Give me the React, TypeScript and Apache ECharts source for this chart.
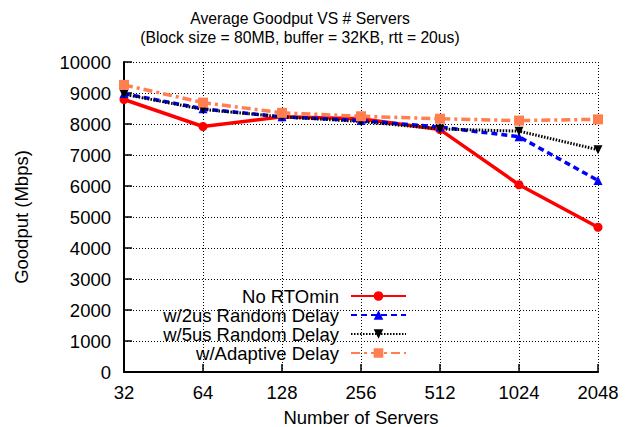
import React, { useEffect, useRef } from "react";
import * as echarts from "echarts";

const categories = ["32", "64", "128", "256", "512", "1024", "2048"];
const noRTOmin = [8790, 7920, 8230, 8170, 7820, 6040, 4670];
const delay2us = [8980, 8490, 8230, 8110, 7900, 7590, 6180];
const delay5us = [8960, 8470, 8230, 8080, 7840, 7770, 7170];
const adaptive = [9260, 8690, 8360, 8250, 8170, 8110, 8150];
const seriesNames = ["No RTOmin", "w/2us Random Delay", "w/5us Random Delay", "w/Adaptive Delay"];

const FONT = "Liberation Sans, Arial, Helvetica, sans-serif";
const FS = 18.5;

export default function App() {
  const ref = useRef<HTMLDivElement>(null);
  useEffect(() => {
    if (!ref.current) return;
    const chart = echarts.init(ref.current, undefined, { renderer: "svg" });
    const legendCenters = [296, 315, 334, 353];
    const legends = seriesNames.map((n, i) => ({
      data: [n],
      orient: "horizontal",
      align: "right",
      right: 234,
      top: legendCenters[i] - 10,
      padding: 0,
      itemWidth: 55,
      itemHeight: 12,
      selectedMode: false,
      textStyle: {
        fontFamily: FONT,
        fontSize: FS,
        lineHeight: 20,
        color: "#000",
        padding: [0, 7, 0, 0],
      },
    }));
    const base = { type: "line", symbolKeepAspect: true, z: 3 };
    chart.setOption({
      animation: false,
      backgroundColor: "#fff",
      title: {
        text: "Average Goodput VS # Servers\n(Block size = 80MB, buffer = 32KB, rtt = 20us)",
        left: 295,
        top: 4,
        textAlign: "center",
        textStyle: {
          fontFamily: FONT,
          fontSize: 15.7,
          lineHeight: 19,
          fontWeight: "normal",
          color: "#000",
        },
      },
      legend: legends,
      grid: {
        left: 124,
        right: 43,
        top: 62,
        bottom: 55,
        containLabel: false,
        outerBoundsMode: "none",
      },
      xAxis: {
        type: "category",
        data: categories,
        boundaryGap: false,
        name: "Number of Servers",
        nameLocation: "middle",
        nameGap: 37,
        nameTextStyle: { fontFamily: FONT, fontSize: FS, lineHeight: 16, color: "#000" },
        axisLine: { show: true, lineStyle: { color: "#000", width: 2 } },
        axisTick: { show: true, inside: true, length: 8, lineStyle: { color: "#000", width: 1.5 } },
        axisLabel: { fontFamily: FONT, fontSize: FS, color: "#000", margin: 11 },
        splitLine: { show: true, lineStyle: { color: "#000", width: 1, type: [1, 2] } },
      },
      yAxis: {
        type: "value",
        min: 0,
        max: 10000,
        interval: 1000,
        name: "Goodput (Mbps)",
        nameLocation: "middle",
        nameRotate: 90,
        nameGap: 93,
        nameTextStyle: { fontFamily: FONT, fontSize: FS, color: "#000" },
        axisLine: { show: true, lineStyle: { color: "#000", width: 2 } },
        axisTick: { show: true, inside: true, length: 8, lineStyle: { color: "#000", width: 1.5 } },
        axisLabel: {
          fontFamily: FONT,
          fontSize: FS,
          color: "#000",
          margin: 13,
          formatter: (v: number) => String(v),
        },
        splitLine: { show: true, lineStyle: { color: "#000", width: 1, type: [1, 2] } },
      },
      series: [
        {
          ...base,
          name: seriesNames[0],
          data: noRTOmin,
          symbol: "circle",
          symbolSize: 9,
          itemStyle: { color: "#ff0000" },
          lineStyle: { color: "#ff0000", width: 3.5, type: "solid" },
        },
        {
          ...base,
          name: seriesNames[1],
          data: delay2us,
          symbol: "triangle",
          symbolSize: 9,
          itemStyle: { color: "#0000ff" },
          lineStyle: { color: "#0000ff", width: 3.5, type: [6, 4] },
        },
        {
          ...base,
          name: seriesNames[2],
          data: delay5us,
          symbol: "triangle",
          symbolRotate: 180,
          symbolSize: 9,
          itemStyle: { color: "#000" },
          lineStyle: { color: "#000", width: 3, type: [1.5, 1.5] },
        },
        {
          ...base,
          name: seriesNames[3],
          data: adaptive,
          symbol: "rect",
          symbolSize: 10,
          itemStyle: { color: "#ff7f50" },
          lineStyle: { color: "#ff7f50", width: 3.5, type: [9, 4, 3, 4] },
        },
      ],
    });
    return () => chart.dispose();
  }, []);
  return <div ref={ref} style={{ width: 641, height: 427, position: "absolute", left: 0, top: 0 }} />;
}
